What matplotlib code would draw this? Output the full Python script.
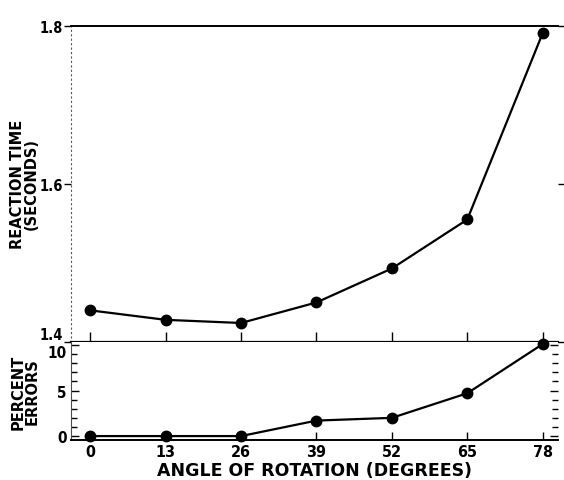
import numpy as np
import matplotlib
matplotlib.use("Agg")
import matplotlib.pyplot as plt
from matplotlib.ticker import MultipleLocator

angles = [0, 13, 26, 39, 52, 65, 78]
rt = [1.44, 1.428, 1.424, 1.45, 1.493, 1.555, 1.791]   # reaction time, s
errors = [0.0, 0.0, 0.0, 1.7, 2.0, 4.7, 10.1]          # percent errors

plt.rcParams['font.family'] = 'DejaVu Sans'
plt.rcParams['font.weight'] = 'bold'
plt.rcParams['font.stretch'] = 'condensed'

fig = plt.figure(figsize=(5.64, 4.81), dpi=100)
ax1 = fig.add_axes([0.126, 0.287, 0.863, 0.657])
ax2 = fig.add_axes([0.126, 0.083, 0.863, 0.204], sharex=ax1)

xlim = (-3.3, 80.6)

# upper panel: reaction time
ax1.plot(angles, rt, color='black', lw=1.6, marker='o', ms=7.5, clip_on=False)
ax1.set_xlim(*xlim)
ax1.set_ylim(1.4, 1.8)
ax1.set_yticks([1.4, 1.6, 1.8])
ax1.set_yticklabels(['1.4', '1.6', '1.8'])
ax1.get_yticklabels()[0].set_va('bottom')
ax1.spines['right'].set_visible(False)
ax1.spines['bottom'].set_linewidth(1.6)
ax1.spines['top'].set_linewidth(1.4)
ax1.spines['left'].set_linestyle((0, (1, 3)))
ax1.spines['left'].set_color('0.35')
ax1.spines['left'].set_linewidth(0.8)
ax1.tick_params(axis='y', direction='out', length=5, width=1, labelsize=10.5, pad=1, right=True)
ax1.tick_params(axis='x', direction='in', length=7, width=1, labelbottom=False, top=False)
ax1.set_xticks(angles)

# lower panel: percent errors
ax2.plot(angles, errors, color='black', lw=1.6, marker='o', ms=7.5, clip_on=False)
ax2.set_ylim(-0.44, 10.33)
ax2.set_yticks([0, 5, 10])
ax2.yaxis.set_minor_locator(MultipleLocator(1))
ax2.get_yticklabels()[2].set_va('top')
ax2.spines['top'].set_visible(False)
ax2.spines['right'].set_visible(False)
ax2.spines['bottom'].set_linewidth(1.4)
ax2.spines['left'].set_linewidth(0.8)
ax2.spines['left'].set_color('0.3')
ax2.tick_params(axis='y', which='major', direction='in', length=6, width=1, labelsize=11, pad=3, right=True)
ax2.tick_params(axis='y', which='minor', direction='in', length=4, width=1, right=True)
ax2.tick_params(axis='x', direction='in', length=6, width=1, labelsize=11.5, pad=3)
ax2.set_xticks(angles)
ax2.set_xticklabels([str(a) for a in angles])
ax2.set_xlabel('ANGLE OF ROTATION (DEGREES)', fontsize=12.5, fontstretch='normal',
               fontweight='bold', labelpad=1)

fig.text(0.043, 0.617, 'REACTION TIME\n(SECONDS)', rotation=90, ha='center', va='center',
         fontsize=10.5, fontstretch='normal', linespacing=0.95)
fig.text(0.045, 0.185, 'PERCENT\nERRORS', rotation=90, ha='center', va='center',
         fontsize=10.5, fontstretch='normal', linespacing=0.95)

fig.savefig('out.png', dpi=100)
